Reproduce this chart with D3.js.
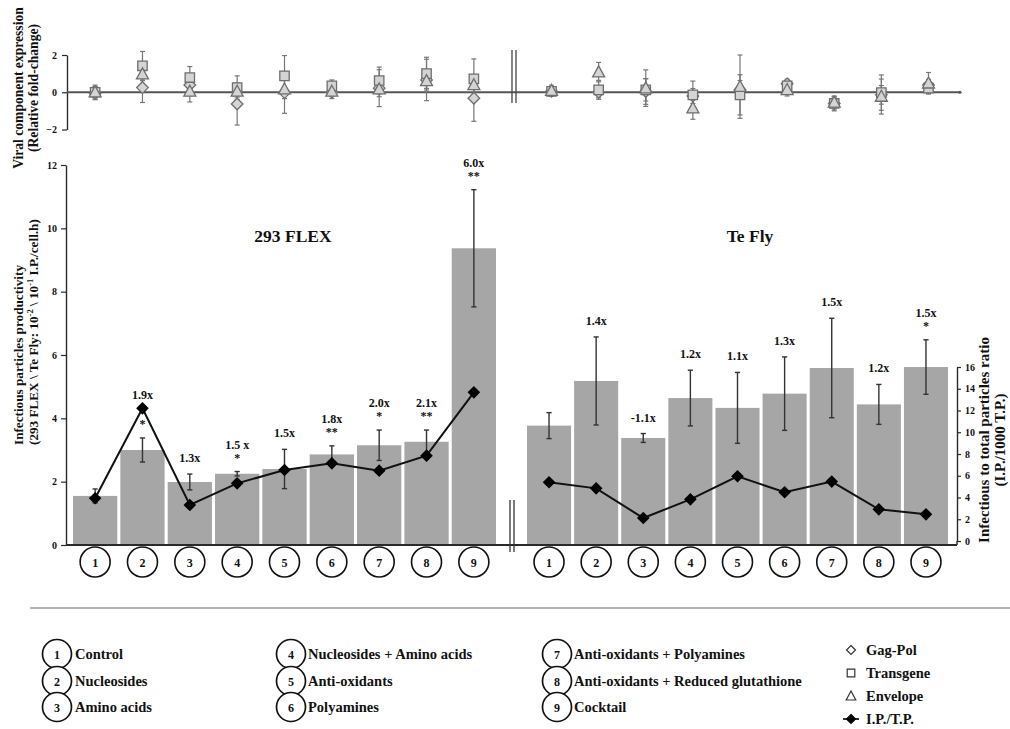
<!DOCTYPE html>
<html>
<head>
<meta charset="utf-8">
<script src="https://cdn.jsdelivr.net/npm/d3@7"></script>
<style>
  body { margin: 0; background: #fff; }
  svg text { font-family: "Liberation Serif", "Times New Roman", serif; font-weight: bold; fill: #111; }
</style>
</head>
<body>
<svg id="chart" width="1010" height="729"></svg>
<script>
// ---- data ----------------------------------------------------------------
const categories = ["1", "2", "3", "4", "5", "6", "7", "8", "9"];
const treatments = [
  "Control", "Nucleosides", "Amino acids",
  "Nucleosides + Amino acids", "Anti-oxidants", "Polyamines",
  "Anti-oxidants + Polyamines", "Anti-oxidants + Reduced glutathione", "Cocktail"
];
const cellLines = ["293 FLEX", "Te Fly"];

// infectious particle productivity (bars, left axis)
const flexProductivity    = [1.55, 3.00, 1.99, 2.25, 2.40, 2.86, 3.15, 3.26, 9.37];
const flexProductivityErr = [0.22, 0.38, 0.25, 0.07, 0.62, 0.27, 0.48, 0.37, 1.85];
const teflyProductivity    = [3.77, 5.18, 3.38, 4.64, 4.33, 4.78, 5.59, 4.44, 5.62];
const teflyProductivityErr = [0.41, 1.39, 0.14, 0.88, 1.12, 1.16, 1.57, 0.63, 0.86];

// infectious to total particle ratio (line, right axis)
const flexRatio  = [3.93, 12.2, 3.31, 5.30, 6.53, 7.14, 6.47, 7.85, 13.67];
const teflyRatio = [5.40, 4.84, 2.11, 3.83, 5.95, 4.48, 5.46, 2.91, 2.45];

// fold change vs control and significance
const flexFold  = ["", "1.9x", "1.3x", "1.5 x", "1.5x", "1.8x", "2.0x", "2.1x", "6.0x"];
const flexSig   = ["", "*", "", "*", "", "**", "*", "**", "**"];
const teflyFold = ["", "1.4x", "-1.1x", "1.2x", "1.1x", "1.3x", "1.5x", "1.2x", "1.5x"];
const teflySig  = ["", "", "", "", "", "", "", "", "*"];

// viral component expression (relative fold-change)
const flexGagPol       = [-0.05, 0.25, 0.39, -0.63, -0.02, 0.00, 0.22, 0.66, -0.32];
const flexGagPolErr    = [0.35, 0.80, 0.30, 1.13, 1.11, 0.34, 0.99, 1.11, 1.24];
const flexTransgene    = [0.00, 1.42, 0.79, 0.25, 0.88, 0.34, 0.63, 1.00, 0.72];
const flexTransgeneErr = [0.38, 0.77, 0.59, 0.63, 1.09, 0.32, 0.72, 0.88, 1.07];
const flexEnvelope     = [0.00, 0.97, 0.04, 0.04, 0.16, 0.04, 0.16, 0.61, 0.39];
const flexEnvelopeErr  = [0.30, 0.35, 0.56, 0.30, 0.50, 0.25, 0.40, 0.40, 0.50];

const teflyGagPol       = [0.05, 0.00, 0.04, -0.20, 0.13, 0.45, -0.60, -0.14, 0.39];
const teflyGagPolErr    = [0.20, 0.30, 0.69, 0.40, 0.50, 0.25, 0.35, 0.50, 0.30];
const teflyTransgene    = [0.05, 0.13, 0.13, -0.14, -0.14, 0.35, -0.60, -0.02, 0.22];
const teflyTransgeneErr = [0.25, 0.51, 0.60, 0.74, 1.08, 0.20, 0.40, 0.95, 0.27];
const teflyEnvelope     = [0.08, 1.08, 0.22, -0.86, 0.30, 0.13, -0.55, -0.23, 0.48];
const teflyEnvelopeErr  = [0.30, 0.52, 0.98, 0.59, 1.70, 0.33, 0.30, 0.94, 0.58];

const prodTicks  = [0, 2, 4, 6, 8, 10, 12];
const ratioTicks = [0, 2, 4, 6, 8, 10, 12, 14, 16];
const foldTicks  = [-2, 0, 2];

// ---- layout ----------------------------------------------------------------
const svg = d3.select("#chart");

const xFlex  = d3.scaleBand().domain(categories).range([73, 496]).paddingInner(0.065).paddingOuter(0);
const xTefly = d3.scaleBand().domain(categories).range([527, 948]).paddingInner(0.065).paddingOuter(0);
const yProd  = d3.scaleLinear().domain([0, 12]).range([545, 165]);
const yRatio = d3.scaleLinear().domain([0, 16]).range([541, 367]);
const yFold  = d3.scaleLinear().domain([-2, 2]).range([129.5, 55]);

const BAR = "#a6a6a6";
const AXIS = "#2a2a2a";

const diamondPath = r => `M0,${-r}L${r},0L0,${r}L${-r},0Z`;

function styleAxis(g, fontSize) {
  g.select(".domain").attr("stroke", AXIS).attr("stroke-width", 1.4);
  g.selectAll(".tick line").attr("stroke", AXIS).attr("stroke-width", 1.2);
  g.selectAll(".tick text").attr("font-size", fontSize).attr("fill", "#111")
    .style("font-family", '"Liberation Serif", serif').style("font-weight", "bold");
}

// ---- top panel: viral component expression ----------------------------------
const foldAxis = svg.append("g").attr("transform", "translate(67,0)")
  .call(d3.axisLeft(yFold).tickValues(foldTicks).tickSize(5).tickSizeOuter(0).tickPadding(5).tickFormat(d3.format("d")));
styleAxis(foldAxis, 10);

svg.append("line").attr("x1", 67).attr("x2", 960).attr("y1", yFold(0)).attr("y2", yFold(0))
  .attr("stroke", "#555").attr("stroke-width", 1.8);
svg.append("circle").attr("cx", 960).attr("cy", yFold(0)).attr("r", 1.6).attr("fill", "#555");

// axis break marks
[512, 516].forEach(x => svg.append("line").attr("x1", x).attr("x2", x).attr("y1", 50).attr("y2", 103)
  .attr("stroke", "#444").attr("stroke-width", 1.3));

const expressionGroups = [
  { x: xFlex, shift: 0, series: [
    { name: "Gag-Pol", v: flexGagPol, e: flexGagPolErr, shape: "diamond" },
    { name: "Transgene", v: flexTransgene, e: flexTransgeneErr, shape: "square" },
    { name: "Envelope", v: flexEnvelope, e: flexEnvelopeErr, shape: "triangle" } ] },
  { x: xTefly, shift: 2.5, series: [
    { name: "Gag-Pol", v: teflyGagPol, e: teflyGagPolErr, shape: "diamond" },
    { name: "Transgene", v: teflyTransgene, e: teflyTransgeneErr, shape: "square" },
    { name: "Envelope", v: teflyEnvelope, e: teflyEnvelopeErr, shape: "triangle" } ] }
];

function shapePath(shape) {
  if (shape === "diamond") return diamondPath(5.8);
  if (shape === "square") return "M-4.7,-4.7H4.7V4.7H-4.7Z";
  return "M0,-6.3L6,4.7H-6Z";
}

expressionGroups.forEach(grp => {
  const cx = c => grp.x(c) + grp.x.bandwidth() / 2 + grp.shift;
  const eg = svg.append("g");
  grp.series.forEach(s => {
    categories.forEach((c, i) => {
      const x = cx(c), top = yFold(s.v[i] + s.e[i]), bot = yFold(s.v[i] - s.e[i]);
      eg.append("line").attr("x1", x).attr("x2", x).attr("y1", top).attr("y2", bot)
        .attr("stroke", "#777").attr("stroke-width", 1.2);
      [top, bot].forEach(y => eg.append("line").attr("x1", x - 2.5).attr("x2", x + 2.5)
        .attr("y1", y).attr("y2", y).attr("stroke", "#777").attr("stroke-width", 1.2));
    });
  });
  grp.series.forEach(s => {
    svg.append("g").selectAll("path").data(categories).join("path")
      .attr("transform", (c, i) => `translate(${cx(c)},${yFold(s.v[i])})`)
      .attr("d", shapePath(s.shape))
      .attr("fill", "#d4d4d4").attr("stroke", "#6e6e6e").attr("stroke-width", 1.3);
  });
});

// ---- main panel: productivity bars and particle ratio ----------------------
const prodAxis = svg.append("g").attr("transform", "translate(66,0)")
  .call(d3.axisLeft(yProd).tickValues(prodTicks).tickSize(5).tickSizeOuter(0).tickPadding(4).tickFormat(d3.format("d")));
styleAxis(prodAxis, 10);

const ratioAxis = svg.append("g").attr("transform", "translate(957,0)")
  .call(d3.axisRight(yRatio).tickValues(ratioTicks).tickSize(4).tickSizeOuter(0).tickPadding(4).tickFormat(d3.format("d")));
styleAxis(ratioAxis, 10);
ratioAxis.append("line").attr("x1", 0).attr("x2", 0).attr("y1", yRatio(0)).attr("y2", 545)
  .attr("stroke", AXIS).attr("stroke-width", 1.4);

const panels = [
  { x: xFlex, prod: flexProductivity, err: flexProductivityErr, ratio: flexRatio, fold: flexFold, sig: flexSig, title: cellLines[0], titleX: 293 },
  { x: xTefly, prod: teflyProductivity, err: teflyProductivityErr, ratio: teflyRatio, fold: teflyFold, sig: teflySig, title: cellLines[1], titleX: 750 }
];

panels.forEach(p => {
  const cx = c => p.x(c) + p.x.bandwidth() / 2;
  const g = svg.append("g");

  g.selectAll("rect").data(categories).join("rect")
    .attr("x", c => p.x(c)).attr("width", p.x.bandwidth())
    .attr("y", (c, i) => yProd(p.prod[i]))
    .attr("height", (c, i) => yProd(0) - yProd(p.prod[i]))
    .attr("fill", BAR);

  categories.forEach((c, i) => {
    const x = cx(c), top = yProd(p.prod[i] + p.err[i]), bot = yProd(p.prod[i] - p.err[i]);
    g.append("line").attr("x1", x).attr("x2", x).attr("y1", top).attr("y2", bot)
      .attr("stroke", "#333").attr("stroke-width", 1.4);
    [top, bot].forEach(y => g.append("line").attr("x1", x - 2.6).attr("x2", x + 2.6)
      .attr("y1", y).attr("y2", y).attr("stroke", "#333").attr("stroke-width", 1.4));
  });

  const line = d3.line().x((d, i) => cx(categories[i])).y(d => yRatio(d));
  g.append("path").datum(p.ratio).attr("d", line)
    .attr("fill", "none").attr("stroke", "#111").attr("stroke-width", 2);
  g.selectAll("path.pt").data(p.ratio).join("path").attr("class", "pt")
    .attr("transform", (d, i) => `translate(${cx(categories[i])},${yRatio(d)})`)
    .attr("d", diamondPath(6.3)).attr("fill", "#000");

  // fold-change and significance annotations
  categories.forEach((c, i) => {
    if (!p.fold[i]) return;
    const x = cx(c);
    const errTop = yProd(p.prod[i] + p.err[i]);
    const pointY = yRatio(p.ratio[i]);
    let labelY;
    if (p.sig[i]) {
      g.append("text").attr("x", x).attr("y", errTop - 10).attr("text-anchor", "middle")
        .attr("font-size", 12).text(p.sig[i]);
      labelY = errTop - 23;
    } else {
      labelY = errTop - 12;
    }
    labelY = Math.min(labelY, pointY - 9);
    g.append("text").attr("x", x).attr("y", labelY).attr("text-anchor", "middle")
      .attr("font-size", 12).text(p.fold[i]);
  });

  svg.append("text").attr("x", p.titleX).attr("y", 242).attr("text-anchor", "middle")
    .attr("font-size", 17.5).text(p.title);

  // numbered treatment markers under the bars
  const lg = svg.append("g");
  categories.forEach(c => {
    lg.append("circle").attr("cx", cx(c)).attr("cy", 562).attr("r", 15)
      .attr("fill", "#fff").attr("stroke", "#111").attr("stroke-width", 1.6);
    lg.append("text").attr("x", cx(c)).attr("y", 566.5).attr("text-anchor", "middle")
      .attr("font-size", 12).text(c);
  });
});

// baseline and break
svg.append("line").attr("x1", 66).attr("x2", 957).attr("y1", 545).attr("y2", 545)
  .attr("stroke", AXIS).attr("stroke-width", 2);
[510, 514].forEach(x => svg.append("line").attr("x1", x).attr("x2", x).attr("y1", 500).attr("y2", 552)
  .attr("stroke", "#333").attr("stroke-width", 1.3));

// ---- axis titles ------------------------------------------------------------
function vTitle(x, y, anchor, text, size) {
  return svg.append("text").attr("transform", `translate(${x},${y}) rotate(-90)`)
    .attr("text-anchor", anchor).attr("font-size", size).text(text);
}
vTitle(23, 88, "middle", "Viral component expression", 13.6);
vTitle(38, 88, "middle", "(Relative fold-change)", 13.6);

vTitle(23, 445, "start", "Infectious particles productivity", 13.2);
const t2 = svg.append("text").attr("transform", "translate(38,445) rotate(-90)")
  .attr("text-anchor", "start").attr("font-size", 13.2);
t2.append("tspan").text("(293 FLEX \\ Te Fly: 10");
t2.append("tspan").attr("dy", -5).attr("font-size", 8.5).text("-2");
t2.append("tspan").attr("dy", 5).text(" \\ 10");
t2.append("tspan").attr("dy", -5).attr("font-size", 8.5).text("-1");
t2.append("tspan").attr("dy", 5).text("  I.P./cell.h)");

vTitle(989, 440, "middle", "Infectious to total particles ratio", 15);
vTitle(1005, 440, "middle", "(I.P./1000 T.P.)", 15);

// ---- legend ---------------------------------------------------------------
svg.append("line").attr("x1", 30).attr("x2", 1010).attr("y1", 608).attr("y2", 608)
  .attr("stroke", "#9a9a9a").attr("stroke-width", 1.5);

const legendCols = [
  { cx: 57, tx: 75 }, { cx: 291, tx: 308 }, { cx: 557, tx: 574 }
];
const legendRows = [654, 681, 707];
treatments.forEach((t, i) => {
  const col = legendCols[Math.floor(i / 3)], y = legendRows[i % 3];
  svg.append("circle").attr("cx", col.cx).attr("cy", y).attr("r", 14.5)
    .attr("fill", "#fff").attr("stroke", "#111").attr("stroke-width", 1.7);
  svg.append("text").attr("x", col.cx).attr("y", y + 4.5).attr("text-anchor", "middle")
    .attr("font-size", 12).text(categories[i]);
  svg.append("text").attr("x", col.tx).attr("y", y + 5).attr("font-size", 14.5).text(t);
});

const symbolLegend = [
  { label: "Gag-Pol", d: diamondPath(4.5), fill: "#fff", stroke: "#333" },
  { label: "Transgene", d: "M-3.8,-3.8H3.8V3.8H-3.8Z", fill: "#fff", stroke: "#333" },
  { label: "Envelope", d: "M0,-5L4.8,4H-4.8Z", fill: "#fff", stroke: "#333" },
  { label: "I.P./T.P.", d: diamondPath(4.5), fill: "#000", stroke: "#000" }
];
const symRows = [650, 673, 696, 719];
symbolLegend.forEach((s, i) => {
  const y = symRows[i];
  if (i === 3) svg.append("line").attr("x1", 843).attr("x2", 859).attr("y1", y).attr("y2", y)
    .attr("stroke", "#000").attr("stroke-width", 1.6);
  svg.append("path").attr("transform", `translate(851,${y})`).attr("d", s.d)
    .attr("fill", s.fill).attr("stroke", s.stroke).attr("stroke-width", 1.2);
  svg.append("text").attr("x", 866).attr("y", y + 5).attr("font-size", 14.5).text(s.label);
});
</script>
</body>
</html>
